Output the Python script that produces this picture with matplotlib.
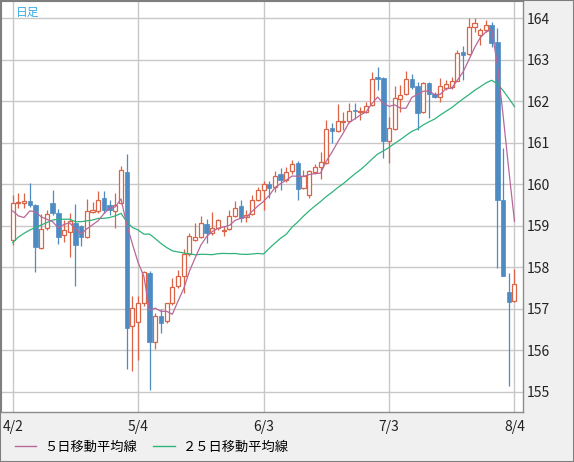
import numpy as np
import matplotlib
matplotlib.use("Agg")
import matplotlib.pyplot as plt
from matplotlib.lines import Line2D
from matplotlib.patches import Rectangle

plt.rcParams['font.family'] = ['Noto Sans CJK JP', 'DejaVu Sans']

# daily candles (index 0 = 4/2)
opens = [158.66, 159.55, 159.55, 159.59, 159.50, 158.46, 158.94, 159.56, 159.32, 158.77,
         158.85, 159.08, 159.00, 158.73, 159.34, 159.36, 159.66, 159.50, 159.36, 159.54,
         160.31, 156.58, 156.69, 157.15, 157.87, 156.21, 156.83, 156.70, 157.13, 157.54,
         157.79, 158.31, 158.65, 158.73, 159.04, 158.83, 158.94, 158.88, 158.92, 159.24,
         159.48, 159.21, 159.29, 159.62, 159.87, 160.00, 159.94, 160.24, 160.11, 160.32,
         160.51, 159.92, 159.74, 160.30, 160.42, 160.51, 161.35, 161.29, 161.51, 161.53,
         161.79, 161.75, 161.75, 161.91, 162.58, 162.57, 161.05, 161.33, 162.06, 162.17,
         162.55, 162.36, 161.74, 162.45, 162.19, 162.10, 162.32, 162.34, 162.50, 163.19,
         163.14, 163.79, 163.61, 163.71, 163.84, 163.43, 159.63, 157.41, 157.19]
highs = [159.74, 159.78, 159.80, 160.03, 159.52, 159.28, 159.38, 159.86, 159.40, 159.14,
         159.32, 159.52, 159.02, 159.64, 159.58, 159.83, 159.83, 159.63, 159.79, 160.45,
         160.72, 157.32, 157.32, 157.91, 157.90, 156.91, 156.99, 157.15, 157.75, 157.93,
         158.43, 158.83, 159.06, 159.24, 159.16, 159.33, 159.16, 158.99, 159.38, 159.60,
         159.63, 159.38, 159.74, 159.94, 160.08, 160.08, 160.33, 160.39, 160.41, 160.59,
         160.57, 160.35, 160.35, 160.49, 160.79, 161.55, 161.47, 161.93, 161.75, 161.95,
         161.95, 161.87, 161.99, 162.71, 162.83, 162.59, 161.62, 162.38, 162.39, 162.74,
         162.67, 162.46, 162.47, 162.47, 162.23, 162.56, 162.51, 162.58, 163.25, 163.33,
         164.01, 164.00, 163.76, 163.96, 163.91, 163.77, 160.87, 157.87, 157.97]
lows = [158.54, 159.42, 159.42, 159.46, 157.88, 158.44, 158.90, 159.26, 158.57, 158.62,
        158.24, 157.56, 158.52, 158.71, 159.30, 159.30, 159.32, 159.26, 158.94, 159.52,
        155.56, 155.49, 155.76, 157.07, 155.04, 156.02, 156.42, 156.65, 157.10, 157.50,
        157.37, 158.27, 158.63, 158.71, 158.59, 158.79, 158.90, 158.75, 158.89, 159.22,
        159.10, 159.10, 159.27, 159.60, 159.37, 159.68, 159.82, 159.86, 160.06, 160.25,
        159.63, 159.90, 159.68, 160.25, 160.13, 160.48, 160.99, 161.26, 161.31, 161.47,
        161.57, 161.55, 161.72, 161.89, 162.27, 160.63, 160.51, 161.31, 161.75, 162.15,
        162.31, 161.30, 161.72, 161.60, 162.07, 161.99, 162.27, 162.30, 162.48, 162.52,
        163.12, 163.68, 163.37, 163.68, 163.30, 157.99, 157.79, 155.15, 157.17]
closes = [159.54, 159.57, 159.60, 159.50, 158.48, 158.93, 159.28, 159.32, 158.74, 158.90,
          159.12, 158.54, 158.72, 159.36, 159.38, 159.63, 159.38, 159.38, 159.51, 160.35,
          156.54, 157.03, 157.13, 157.89, 156.21, 156.82, 156.65, 157.13, 157.53, 157.80,
          158.33, 158.75, 158.73, 159.06, 158.83, 158.94, 159.14, 158.90, 159.24, 159.44,
          159.20, 159.26, 159.62, 159.87, 160.00, 159.92, 160.21, 160.10, 160.29, 160.48,
          159.90, 160.19, 160.32, 160.41, 160.53, 161.34, 161.29, 161.53, 161.53, 161.77,
          161.77, 161.77, 161.89, 162.55, 162.54, 161.05, 161.37, 162.07, 162.15, 162.54,
          162.35, 161.73, 162.45, 162.19, 162.11, 162.37, 162.43, 162.49, 163.16, 163.12,
          163.80, 163.89, 163.72, 163.84, 163.40, 159.62, 157.79, 157.16, 157.59]

# moving-average values before enough candles are on screen
ma5_head = [159.36, 159.24, 159.20, 159.36]
ma25_head = [158.60, 158.73, 158.82, 158.90, 158.96, 159.02, 159.08, 159.14, 159.16, 159.16,
             159.16, 159.10, 159.10, 159.12, 159.14, 159.18, 159.18, 159.20, 159.24, 159.30,
             159.10, 158.96, 158.90, 158.80]

date_ticks = [0, 22, 44, 66, 88]
date_labels = ["4/2", "5/4", "6/3", "7/3", "8/4"]
price_ticks = list(range(155, 165))

color_up = "#dc6446"
color_down = "#4d8bc2"
color_ma5 = "#b9679a"
color_ma25 = "#2fb37a"

o = np.array(opens)
h = np.array(highs)
l = np.array(lows)
c = np.array(closes)
x = np.arange(len(c))


def moving_average(values, n, head):
    out = list(head)
    for i in range(len(head), len(values)):
        out.append(values[i - n + 1:i + 1].mean())
    return np.array(out)


ma5 = moving_average(c, 5, ma5_head)
ma25 = moving_average(c, 25, ma25_head)

fig = plt.figure(figsize=(5.74, 4.62), dpi=100, facecolor="#f0f0f0")
ax = fig.add_axes([1 / 574, 50.3 / 462, 522 / 574, 410.7 / 462])
ax.set_facecolor("white")

up = c >= o
down = ~up

# wicks
ax.vlines(x[up], l[up], h[up], color=color_up, lw=0.9, zorder=2)
ax.vlines(x[down], l[down], h[down], color=color_down, lw=0.9, zorder=2)

# bodies
ax.bar(x[up], c[up] - o[up], bottom=o[up], width=0.72, facecolor="white",
       edgecolor=color_up, lw=0.9, zorder=3)
body_d = np.maximum(o[down] - c[down], 0.02)
ax.bar(x[down], body_d, bottom=c[down], width=0.78, facecolor=color_down,
       edgecolor=color_down, lw=0.5, zorder=3)

# moving averages
ax.plot(x, ma25, color=color_ma25, lw=0.9, zorder=4)
ax.plot(x, ma5, color=color_ma5, lw=0.9, zorder=4)

ax.set_xlim(-2.05, 89.5)
ax.set_ylim(154.52, 164.42)
ax.set_xticks(date_ticks)
ax.set_xticklabels(date_labels)
ax.set_yticks(price_ticks)
ax.yaxis.tick_right()
ax.tick_params(axis="both", length=0, labelsize=10, colors="#222222")
ax.tick_params(axis="y", pad=3)
ax.tick_params(axis="x", pad=6)
ax.grid(True, color="#c8c8c8", lw=1)
ax.set_axisbelow(True)

for side in ["left", "top"]:
    ax.spines[side].set_color("#7f7f7f")
for side in ["right", "bottom"]:
    ax.spines[side].set_color("#8c8c8c")
    ax.spines[side].set_linewidth(1)

ax.text(15 / 522, 1 - 5 / 410.7, "日足", transform=ax.transAxes, ha="left", va="top",
        color="#3caae6", fontsize=8.5)

# legend
handles = [Line2D([], [], color=color_ma5, lw=1), Line2D([], [], color=color_ma25, lw=1)]
fig.legend(handles, ["５日移動平均線", "２５日移動平均線"], ncol=2, frameon=False,
           loc="center left", bbox_to_anchor=(4 / 574, 1 - 447 / 462), fontsize=9.5,
           handlelength=1.6, handletextpad=0.6, columnspacing=1.3, borderpad=0.3)

fig.patches.append(Rectangle((0, 0), 1, 1, transform=fig.transFigure, fill=False,
                             edgecolor="#7f7f7f", lw=1.5))

fig.savefig("out.png", dpi=100, facecolor=fig.get_facecolor())
